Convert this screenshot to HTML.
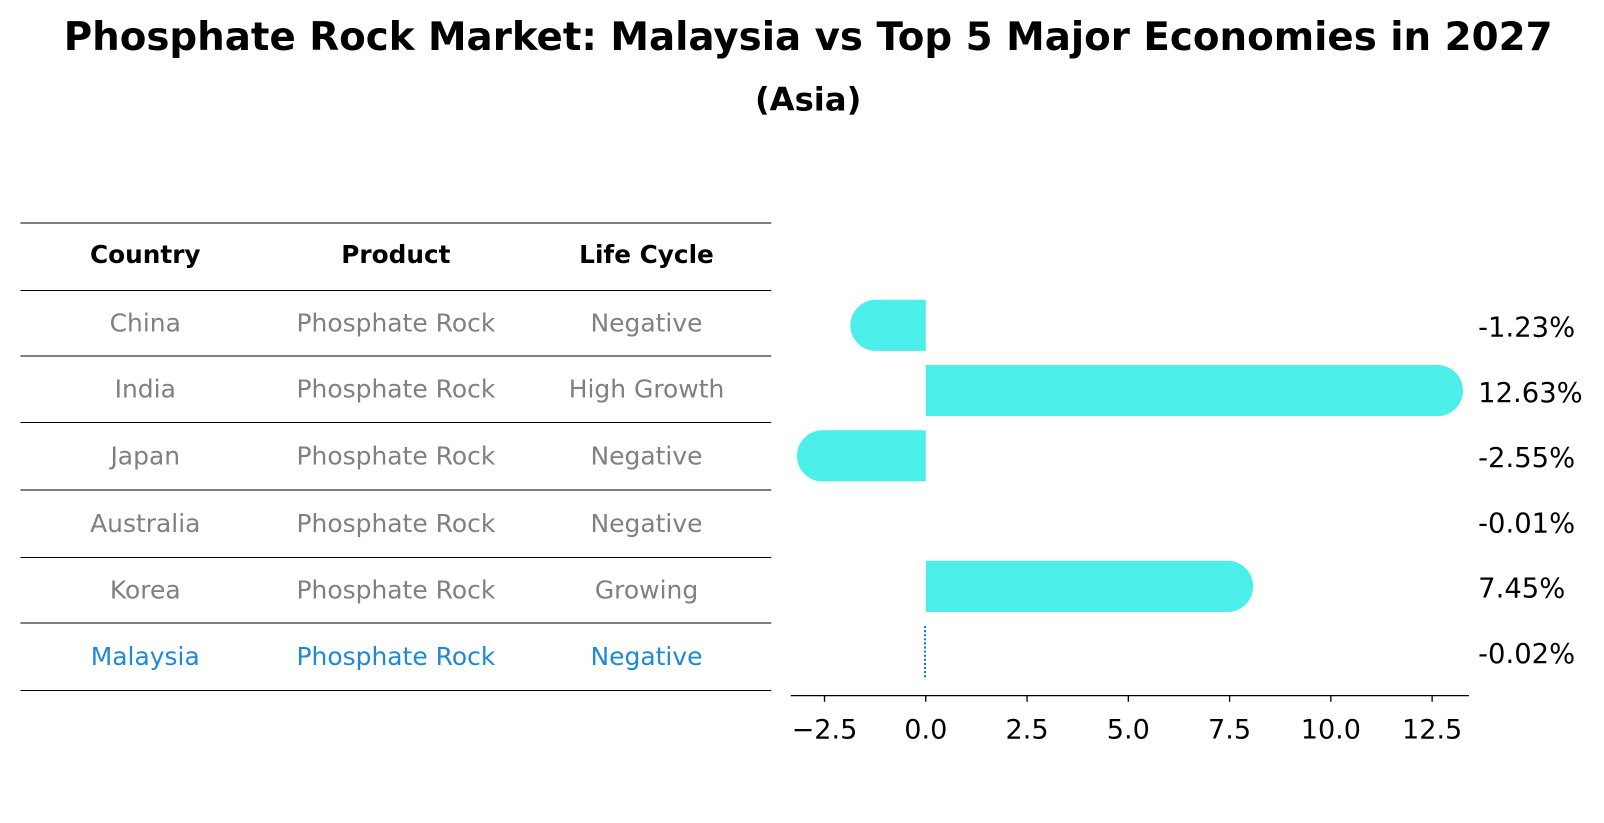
<!DOCTYPE html>
<html><head><meta charset="utf-8"><style>
body{margin:0;background:#fff;}
svg{display:block;font-family:"DejaVu Sans","Liberation Sans",sans-serif;}
</style></head><body>
<svg width="1604" height="823" viewBox="0 0 1568 804.5">
<text x="790" y="49" text-anchor="middle" font-size="37.9" font-weight="bold">Phosphate Rock Market: Malaysia vs Top 5 Major Economies in 2027</text>
<text x="790" y="108" text-anchor="middle" font-size="31.5" font-weight="bold">(Asia)</text>
<g id="table"></g>
<g id="bars"></g>
</svg>
<script>
const countries=["China","India","Japan","Australia","Korea","Malaysia"];
const products=["Phosphate Rock","Phosphate Rock","Phosphate Rock","Phosphate Rock","Phosphate Rock","Phosphate Rock"];
const lifeCycles=["Negative","High Growth","Negative","Negative","Growing","Negative"];
const values=[-1.23,12.63,-2.55,-0.01,7.45,-0.02];
const labels=["-1.23%","12.63%","-2.55%","-0.01%","7.45%","-0.02%"];
const ticks=[-2.5,0,2.5,5,7.5,10,12.5];
const tickLabels=["\u22122.5","0.0","2.5","5.0","7.5","10.0","12.5"];
const NS="http://www.w3.org/2000/svg";
function mk(tag,attrs,parent,text){const e=document.createElementNS(NS,tag);for(const k in attrs)e.setAttribute(k,attrs[k]);if(text!==undefined)e.textContent=text;parent.appendChild(e);return e;}
const tbl=document.getElementById('table');
const lineYs=[218,284,348,413,479,545,609,675];
lineYs.forEach((y,i)=>{const l=mk('line',{x1:20,x2:754,y1:y,y2:y,stroke:'#000','stroke-width':1},tbl);

});
const colX=[142,387,632];
["Country","Product","Life Cycle"].forEach((h,i)=>{const t=mk('text',{x:colX[i],y:257,'text-anchor':'middle','font-size':24.2,'font-weight':'bold'},tbl,h);

});
countries.forEach((c,r)=>{const y=(lineYs[r+1]+lineYs[r+2])/2+8;const col=c==="Malaysia"?"#1f88d8":"#808080";
[c,products[r],lifeCycles[r]].forEach((v,i)=>{const t=mk('text',{x:colX[i],y:y,'text-anchor':'middle','font-size':24.4,fill:col},tbl,v);

});});
const g=document.getElementById('bars');
const x=v=>905+v*39.6;
const rowY=i=>318+i*63.8;
const h=50,r=25;
values.forEach((v,i)=>{const cy=rowY(i);
if(countries[i]==="Malaysia"){const l=mk('line',{x1:x(v),x2:x(v),y1:cy-25,y2:cy+25,stroke:'#1f6fd0','stroke-width':2,'stroke-dasharray':'2,2'},g);

}
else if(Math.abs(v)>0.05){const x0=x(0),x1=x(v),s=v>0?1:-1;
const d=`M${x0},${cy-h/2} L${x1},${cy-h/2} A${r},${r} 0 0 ${s>0?1:0} ${x1},${cy+h/2} L${x0},${cy+h/2} Z`;
const p=mk('path',{d:d,fill:'#4ceeea'},g);

}
const t=mk('text',{x:1445,y:cy+11,'font-size':26.8},g,labels[i]);

});
const ax=mk('line',{x1:773,x2:1436,y1:680,y2:680,stroke:'#000','stroke-width':1.3},g);


ticks.forEach((tv,i)=>{const tk=mk('line',{x1:x(tv),x2:x(tv),y1:680,y2:686,stroke:'#000','stroke-width':1.3},g);


const t=mk('text',{x:x(tv),y:722,'text-anchor':'middle','font-size':26.5},g,tickLabels[i]);

});
</script>
</body></html>
